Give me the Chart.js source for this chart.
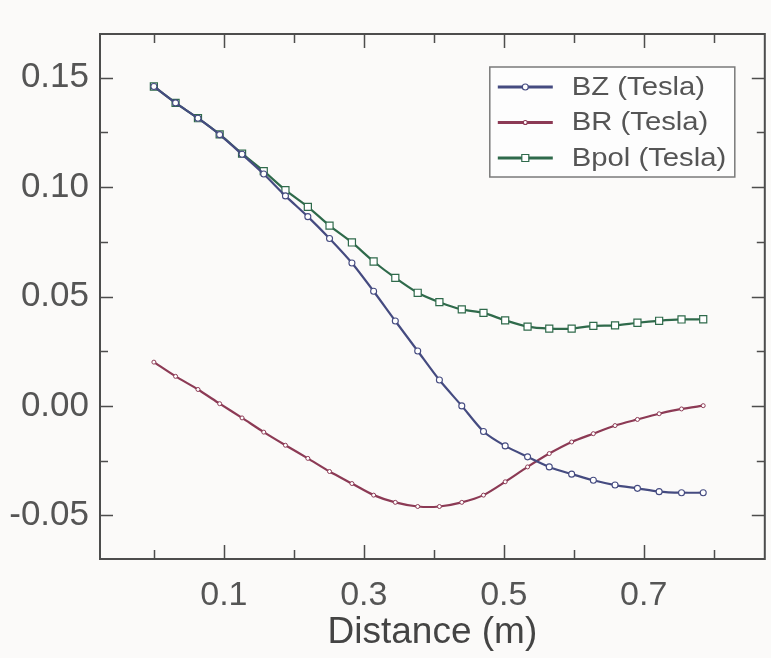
<!DOCTYPE html>
<html>
<head>
<meta charset="utf-8">
<script src="https://cdn.jsdelivr.net/npm/chart.js@4"></script>
<style>
  html, body { margin: 0; padding: 0; background: #fbfaf9; }
  #wrap { width: 771px; height: 658px; }
</style>
</head>
<body>
<div id="wrap"><canvas id="fieldChart" width="771" height="658"></canvas></div>
<script>
// distance along the axis (m)
const distance = [0.000, 0.031, 0.063, 0.094, 0.126, 0.157, 0.188, 0.220, 0.251, 0.283,
  0.314, 0.345, 0.377, 0.408, 0.440, 0.471, 0.502, 0.534, 0.565, 0.597,
  0.628, 0.659, 0.691, 0.722, 0.754, 0.785];

// field components (Tesla)
const bz = [0.146, 0.1385, 0.1315, 0.124, 0.115, 0.106, 0.096, 0.0865, 0.0765, 0.0653,
  0.0524, 0.0388, 0.0251, 0.0118, 0.0, -0.0117, -0.0183, -0.0233, -0.0279, -0.0312,
  -0.034, -0.0362, -0.0377, -0.0392, -0.0397, -0.0397];
const br = [0.020, 0.0135, 0.0075, 0.001, -0.0055, -0.012, -0.018, -0.024, -0.030, -0.0355,
  -0.0408, -0.0441, -0.046, -0.046, -0.0441, -0.0408, -0.0347, -0.0279, -0.0218, -0.0165,
  -0.0127, -0.009, -0.0062, -0.0036, -0.0014, 0.0001];
const bpol = [0.146, 0.1385, 0.1315, 0.1241, 0.1153, 0.1073, 0.0986, 0.091, 0.0824, 0.0747,
  0.066, 0.0585, 0.0517, 0.0474, 0.0441, 0.0425, 0.0391, 0.0362, 0.0353, 0.0353,
  0.0366, 0.0368, 0.038, 0.0389, 0.0395, 0.0396];

const seriesLabels = ['BZ (Tesla)', 'BR (Tesla)', 'Bpol (Tesla)'];

// tick positions
const xMajorTicks = [0.1, 0.3, 0.5, 0.7];
const xMinorTicks = [0.0, 0.2, 0.4, 0.6, 0.8];
const yMajorTicks = [-0.05, 0.00, 0.05, 0.10, 0.15];
const yMinorTicks = [-0.025, 0.025, 0.075, 0.125];

const lineColors = ['#454b80', '#8c3a55', '#2f6a4b'];
const axisColor = '#4d4d4d';
const textColor = '#555555';

const toPoints = (ys) => ys.map((v, i) => ({ x: distance[i], y: v }));

// frame and inward ticks on all four sides
const frameTicksPlugin = {
  id: 'frameTicks',
  afterDraw(chart) {
    const { ctx, chartArea: { left, right, top, bottom }, scales: { x, y } } = chart;
    ctx.save();
    ctx.strokeStyle = axisColor;
    ctx.lineWidth = 2;
    ctx.strokeRect(left, top, right - left, bottom - top);

    ctx.lineWidth = 1.5;
    ctx.beginPath();
    const xTick = (v, len) => {
      const px = Math.round(x.getPixelForValue(v)) + 0.5;
      ctx.moveTo(px, bottom); ctx.lineTo(px, bottom - len);
      ctx.moveTo(px, top); ctx.lineTo(px, top + len);
    };
    const yTick = (v, len) => {
      const py = Math.round(y.getPixelForValue(v)) + 0.5;
      ctx.moveTo(left, py); ctx.lineTo(left + len, py);
      ctx.moveTo(right, py); ctx.lineTo(right - len, py);
    };
    xMajorTicks.forEach(v => xTick(v, 14));
    xMinorTicks.forEach(v => xTick(v, 9));
    yMajorTicks.forEach(v => yTick(v, 13));
    yMinorTicks.forEach(v => yTick(v, 8));
    ctx.stroke();
    ctx.restore();
  }
};

// boxed legend inside the plot, top right
const boxLegendPlugin = {
  id: 'boxLegend',
  afterDraw(chart) {
    const { ctx, chartArea: { right, top } } = chart;
    const boxW = 245, boxH = 110;
    const bx = right - 30 - boxW;
    const by = top + 33;
    ctx.save();
    ctx.fillStyle = '#fdfdfd';
    ctx.fillRect(bx, by, boxW, boxH);
    ctx.strokeStyle = '#7a7a7a';
    ctx.lineWidth = 1.5;
    ctx.strokeRect(bx, by, boxW, boxH);

    ctx.font = '25px "Liberation Sans", Arial, sans-serif';
    ctx.textBaseline = 'middle';
    ctx.textAlign = 'left';
    chart.data.datasets.forEach((ds, i) => {
      const rowY = by + 20 + i * 35.5;
      const x0 = bx + 8, x1 = bx + 63, mx = (x0 + x1) / 2;
      ctx.strokeStyle = ds.borderColor;
      ctx.lineWidth = 3;
      ctx.beginPath();
      ctx.moveTo(x0, rowY); ctx.lineTo(x1, rowY);
      ctx.stroke();
      ctx.fillStyle = '#ffffff';
      ctx.lineWidth = 1.2;
      ctx.beginPath();
      if (ds.pointStyle === 'rect') {
        ctx.rect(mx - 3.5, rowY - 3.5, 7, 7);
      } else {
        ctx.arc(mx, rowY, ds.pointRadius, 0, Math.PI * 2);
      }
      ctx.fill();
      ctx.stroke();
      // the original lettering is a little wide, so stretch it sideways
      ctx.save();
      ctx.translate(bx + 82, rowY + 1);
      ctx.scale(1.17, 1);
      ctx.fillStyle = textColor;
      ctx.fillText(ds.label, 0, 0);
      ctx.restore();
    });
    ctx.restore();
  }
};

const ctx = document.getElementById('fieldChart').getContext('2d');
new Chart(ctx, {
  type: 'line',
  data: {
    datasets: [
      {
        label: seriesLabels[0],
        data: toPoints(bz),
        borderColor: lineColors[0],
        borderWidth: 2.2,
        pointRadius: 3,
        pointStyle: 'circle',
        pointBackgroundColor: '#ffffff',
        pointBorderColor: lineColors[0],
        pointBorderWidth: 1.1,
        tension: 0.25
      },
      {
        label: seriesLabels[1],
        data: toPoints(br),
        borderColor: lineColors[1],
        borderWidth: 2.2,
        pointRadius: 2,
        pointStyle: 'circle',
        pointBackgroundColor: '#ffffff',
        pointBorderColor: lineColors[1],
        pointBorderWidth: 1,
        tension: 0.25
      },
      {
        label: seriesLabels[2],
        data: toPoints(bpol),
        borderColor: lineColors[2],
        borderWidth: 2.2,
        pointRadius: 5,
        pointStyle: 'rect',
        pointBackgroundColor: '#ffffff',
        pointBorderColor: lineColors[2],
        pointBorderWidth: 1.2,
        tension: 0.25
      }
    ]
  },
  options: {
    responsive: false,
    animation: false,
    layout: { padding: { top: 34, right: 2, left: 0, bottom: 0 } },
    plugins: {
      legend: { display: false },
      tooltip: { enabled: false }
    },
    scales: {
      x: {
        type: 'linear',
        min: -0.077,
        max: 0.873,
        afterFit: (s) => { s.height = 99; },
        afterBuildTicks: (s) => { s.ticks = xMajorTicks.map(v => ({ value: v })); },
        grid: { display: false, drawTicks: false },
        border: { display: false },
        ticks: {
          padding: 16,
          color: textColor,
          font: { family: '"Liberation Sans", Arial, sans-serif', size: 34 },
          maxRotation: 0,
          autoSkip: false,
          callback: (v) => Number(v).toFixed(1)
        },
        title: {
          display: true,
          text: 'Distance (m)',
          color: '#444444',
          font: { family: '"Liberation Sans", Arial, sans-serif', size: 37 },
          padding: { top: 0, bottom: 3 }
        }
      },
      y: {
        type: 'linear',
        min: -0.07,
        max: 0.17,
        afterFit: (s) => { s.width = 100; },
        afterBuildTicks: (s) => { s.ticks = yMajorTicks.map(v => ({ value: v })); },
        grid: { display: false, drawTicks: false },
        border: { display: false },
        ticks: {
          padding: 11,
          color: textColor,
          font: { family: '"Liberation Sans", Arial, sans-serif', size: 35 },
          autoSkip: false,
          callback: (v) => Number(v).toFixed(2)
        }
      }
    }
  },
  plugins: [frameTicksPlugin, boxLegendPlugin]
});
</script>
</body>
</html>
